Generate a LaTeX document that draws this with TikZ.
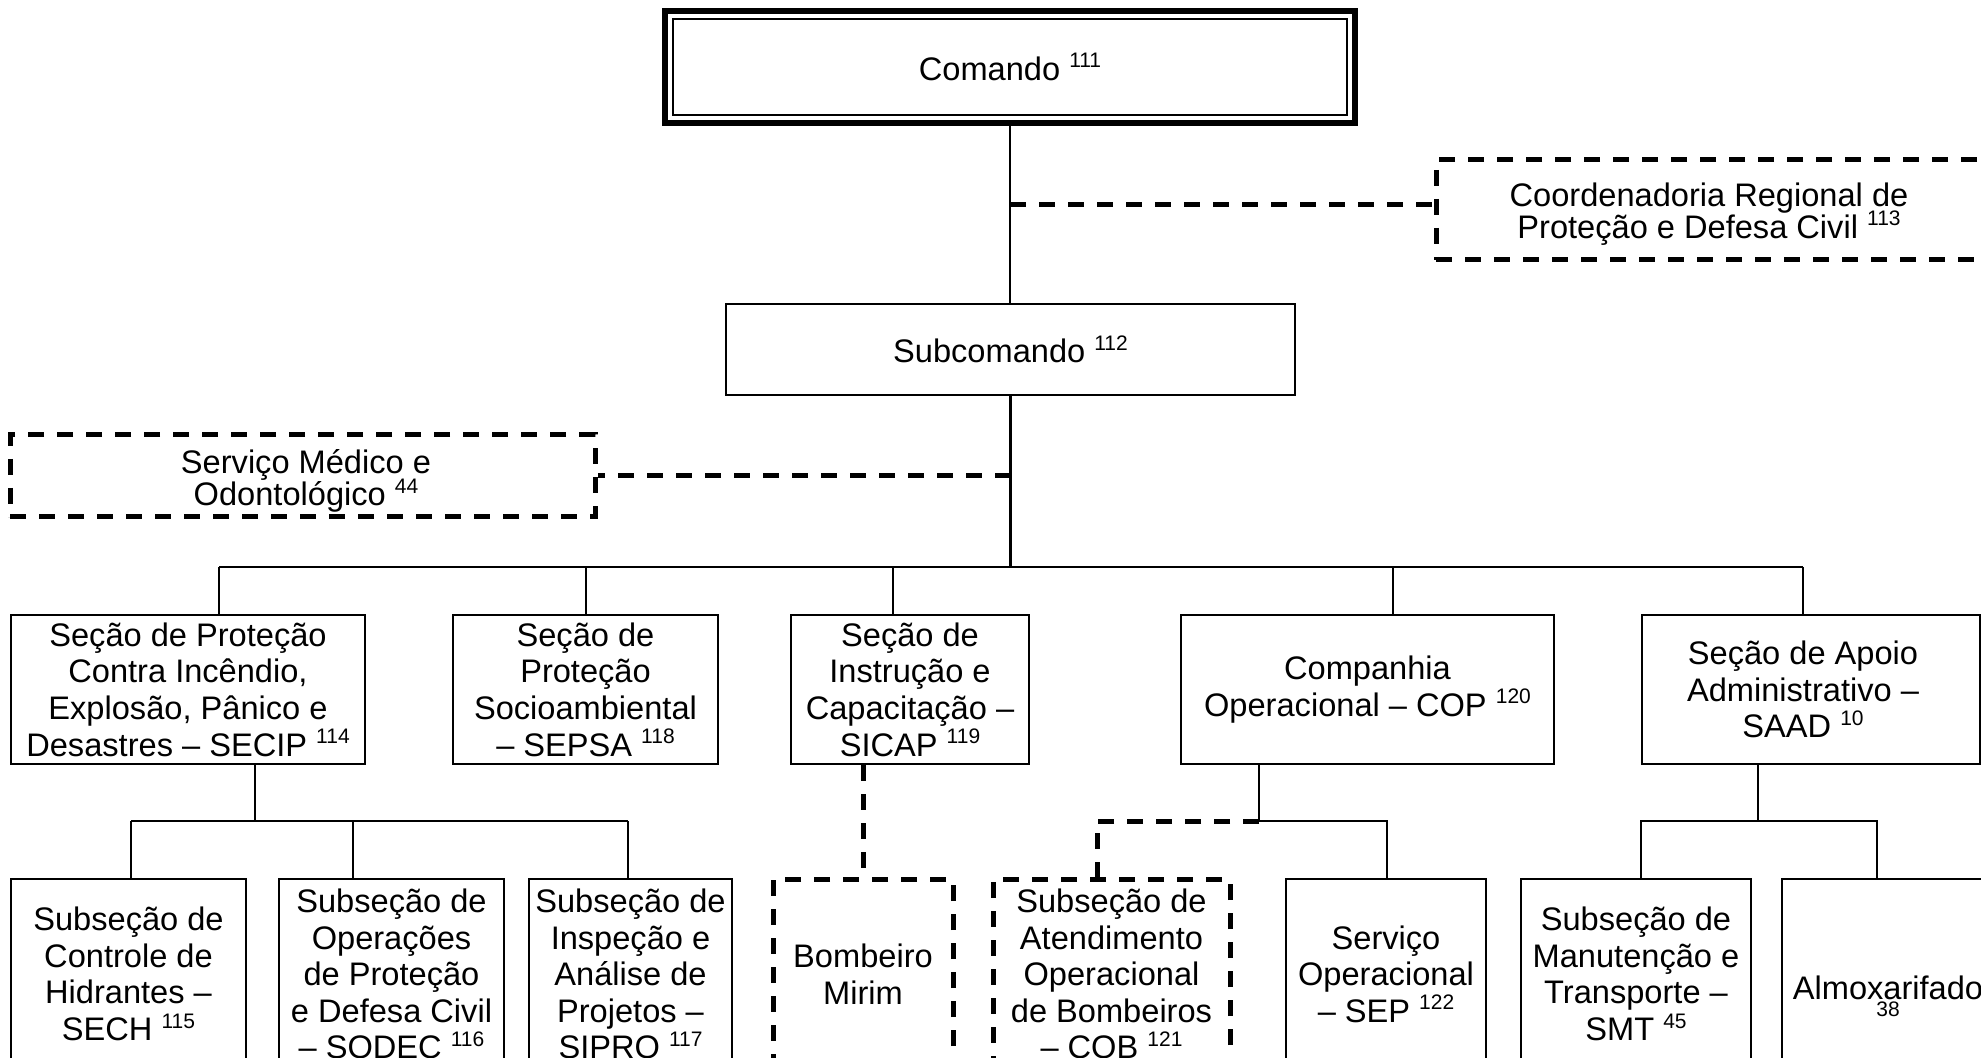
\documentclass[tikz,border=0pt]{standalone}
\usepackage{fontspec}
\setmainfont{Liberation Sans}
\newcommand{\nr}[1]{\raisebox{6.2pt}{\fontsize{10.5}{10.5}\selectfont #1}}
\newcommand{\boxfont}[1]{\fontsize{16.3}{#1}\selectfont\lineskiplimit=-\maxdimen\lineskip=0pt}
\begin{document}
\begin{tikzpicture}[x=0.5pt,y=-0.5pt,
  every node/.style={font=\boxfont{18.3pt}, align=center, inner sep=0pt},
  box/.style={draw, line width=1.25pt},
  dbox/.style={draw, line width=2.5pt, dash pattern=on 8pt off 6.5pt},
  lvltwo/.style={minimum height=74.5pt},
  lvlthree/.style={minimum height=95pt},
  link/.style={line width=1.25pt},
  dlink/.style={line width=2.5pt, dash pattern=on 8pt off 6.5pt}]
\useasboundingbox (0,0) rectangle (1981,1058);
\clip (0,0) rectangle (1981,1058);

% top of the hierarchy
\node (com) [minimum width=345pt, minimum height=56pt] at (1010,67) {Comando \nr{111}};
\draw[line width=3pt] (com.north west) rectangle (com.south east);
\draw[line width=1pt] ([xshift=4pt,yshift=-4pt]com.north west) rectangle ([xshift=-4pt,yshift=4pt]com.south east);

\node (coord) [dbox, minimum width=277pt, minimum height=50pt] at (1713,210) {};
\node (coordt) [font=\boxfont{15.8pt}] at (1709,214)
  {Coordenadoria Regional de\\Proteção e Defesa Civil \nr{113}};
\node (sub) [box, minimum width=284.5pt, minimum height=45.5pt] at (1010.5,349.5) {Subcomando \nr{112}};
\node (med) [dbox, minimum width=292.5pt, minimum height=41pt] at (302.5,476) {};
\node (medt) [font=\boxfont{15.8pt}] at (306,481)
  {Serviço Médico e\\Odontológico \nr{44}};

% sections
\node (secip) [box, lvltwo, minimum width=177pt] at (188,689.5)
  {Seção de Proteção\\Contra Incêndio,\\Explosão, Pânico e\\Desastres – SECIP \nr{114}};
\node (sepsa) [box, lvltwo, minimum width=132.5pt] at (585.5,689.5)
  {Seção de\\Proteção\\Socioambiental\\– SEPSA \nr{118}};
\node (sicap) [box, lvltwo, minimum width=119pt] at (910,689.5)
  {Seção de\\Instrução e\\Capacitação –\\SICAP \nr{119}};
\node (cop) [box, lvltwo, minimum width=186.5pt] at (1367.5,689.5)
  {Companhia\\Operacional – COP \nr{120}};
\node (saad) [box, lvltwo, minimum width=169pt] at (1811,689.5) {};
\node (saadt) at (1803,689.5)
  {Seção de Apoio\\Administrativo –\\SAAD \nr{10}};

% subsections
\node (sech) [box, lvlthree, minimum width=117.5pt] at (128.5,974)
  {Subseção de\\Controle de\\Hidrantes –\\SECH \nr{115}};
\node (sodec) [box, lvlthree, minimum width=112.5pt] at (391.5,974)
  {Subseção de\\Operações\\de Proteção\\e Defesa Civil\\– SODEC \nr{116}};
\node (sipro) [box, lvlthree, minimum width=101.5pt] at (630.5,974)
  {Subseção de\\Inspeção e\\Análise de\\Projetos –\\SIPRO \nr{117}};
\node (mirim) [dbox, lvlthree, minimum width=90pt] at (863,974)
  {Bombeiro\\Mirim};
\node (cob) [dbox, lvlthree, minimum width=118.5pt] at (1111.5,974)
  {Subseção de\\Atendimento\\Operacional\\de Bombeiros\\– COB \nr{121}};
\node (sep) [box, lvlthree, minimum width=100pt] at (1386,974)
  {Serviço\\Operacional\\– SEP \nr{122}};
\node (smt) [box, lvlthree, minimum width=115pt] at (1636,974)
  {Subseção de\\Manutenção e\\Transporte –\\SMT \nr{45}};
\node (almox) [box, lvlthree, minimum width=104pt] at (1886,974) {};
\node (almoxa) at (1888,988) {Almoxarifado};
\node (almoxb) at (1888,1009) {\fontsize{10.5}{10.5}\selectfont 38};

% spine and side links
\draw[link] (com.south) -- (com.south |- sub.north);
\coordinate (c1) at (1010,205);
\draw[dlink] (c1) -- (c1 -| coord.west);
\coordinate (b0) at (1010.5,567);
\draw[link] (sub.south) -- (b0);
\coordinate (c2) at (1010.5,476);
\draw[dlink] (c2) -- (med.east);

% bus to the sections
\coordinate (d1) at (219,567);
\coordinate (d2) at (586,567);
\coordinate (d3) at (893,567);
\coordinate (d4) at (1393,567);
\coordinate (d5) at (1803,567);
\draw[link] (d1) -- (d5);
\draw[link] (d1) -- (d1 |- secip.north);
\draw[link] (d2) -- (d2 |- sepsa.north);
\draw[link] (d3) -- (d3 |- sicap.north);
\draw[link] (d4) -- (d4 |- cop.north);
\draw[link] (d5) -- (d5 |- saad.north);

% SECIP subsections
\coordinate (e0) at (255,821);
\coordinate (e1) at (131,821);
\coordinate (e2) at (353,821);
\coordinate (e3) at (628,821);
\draw[link] (e0 |- secip.south) -- (e0);
\draw[link] (e1) -- (e3);
\draw[link] (e1) -- (e1 |- sech.north);
\draw[link] (e2) -- (e2 |- sodec.north);
\draw[link] (e3) -- (e3 |- sipro.north);

% SICAP
\draw[dlink] (mirim.north |- sicap.south) -- (mirim.north);

% COP subsections
\coordinate (f0) at (1259,821);
\coordinate (f1) at (1097,821);
\coordinate (f2) at (1387,821);
\draw[link] (f0 |- cop.south) -- (f0) -- (f2) -- (f2 |- sep.north);
\draw[dlink] (f0) -- (f1) -- (f1 |- cob.north);

% SAAD subsections
\coordinate (g0) at (1758,821);
\coordinate (g1) at (1641,821);
\coordinate (g2) at (1877,821);
\draw[link] (g0 |- saad.south) -- (g0);
\draw[link] (g1 |- smt.north) -- (g1) -- (g2) -- (g2 |- almox.north);
\end{tikzpicture}
\end{document}
